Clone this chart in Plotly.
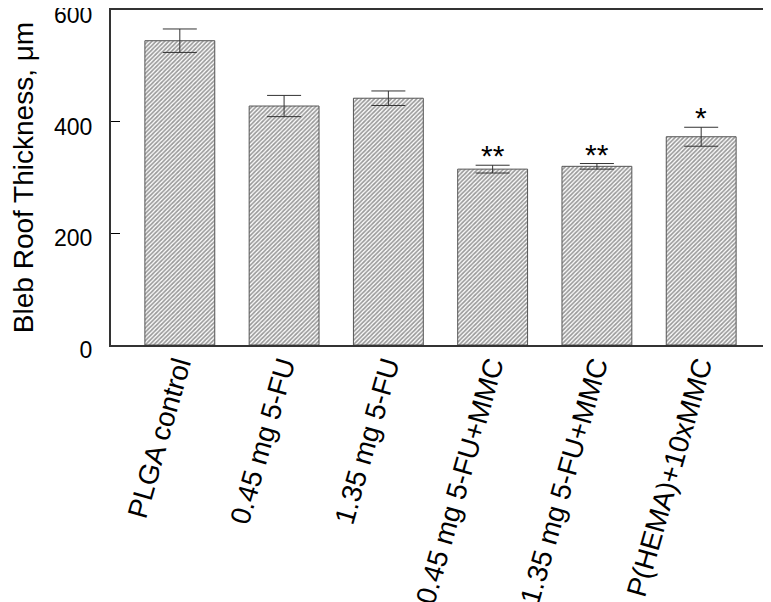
import plotly.graph_objects as go

groups = ["PLGA control", "0.45 mg 5-FU", "1.35 mg 5-FU",
          "0.45 mg 5-FU+MMC", "1.35 mg 5-FU+MMC", "P(HEMA)+10xMMC"]
thickness = [545, 428, 442, 315, 320, 373]
err = [21, 19, 13, 7, 5, 17]
signif = ["", "", "", "**", "**", "*"]

font = "Liberation Sans, Arial, sans-serif"

fig = go.Figure()
fig.add_trace(go.Bar(
    x=list(range(len(groups))),
    y=thickness,
    width=0.67,
    marker=dict(
        color="white",
        line=dict(color="#555555", width=1),
        pattern=dict(shape="/", size=3, solidity=0.55,
                     fgcolor="#333333", bgcolor="white"),
    ),
    error_y=dict(type="data", array=err, color="#333333",
                 thickness=1, width=17),
    showlegend=False,
))

for i, s in enumerate(signif):
    if s:
        fig.add_annotation(x=i, y=thickness[i] + err[i], text=s,
                           showarrow=False, yanchor="bottom", yshift=-9,
                           font=dict(size=30, color="black", family=font))

# page body adds ~8px offset, so the figure is a bit smaller than the window
fig.update_layout(
    width=763, height=594,
    margin=dict(l=103, r=1, t=2, b=257),
    paper_bgcolor="white", plot_bgcolor="white",
    font=dict(family=font, size=23, color="black"),
)
fig.update_xaxes(
    range=[-0.66, 5.66], automargin=False,
    tickmode="array", tickvals=list(range(len(groups))), ticktext=groups,
    tickangle=-74, ticks="", showgrid=False, zeroline=False,
    showline=True, linecolor="#333333", linewidth=2, mirror=True,
    tickfont=dict(size=28), ticklabelstandoff=-9, ticklabelshift=-2,
)
fig.update_yaxes(
    range=[0, 600], tickvals=[0, 200, 400, 600], automargin=False,
    ticks="inside", ticklen=9, tickcolor="black",
    showgrid=False, zeroline=False,
    showline=True, linecolor="#333333", linewidth=2, mirror=True,
    title=dict(text="Bleb Roof Thickness, μm", standoff=36,
               font=dict(size=28)),
    tickfont=dict(size=23), ticklabelstandoff=12, ticklabelshift=5,
    ticklabeloverflow="allow",
)

fig.write_html("out.html")
